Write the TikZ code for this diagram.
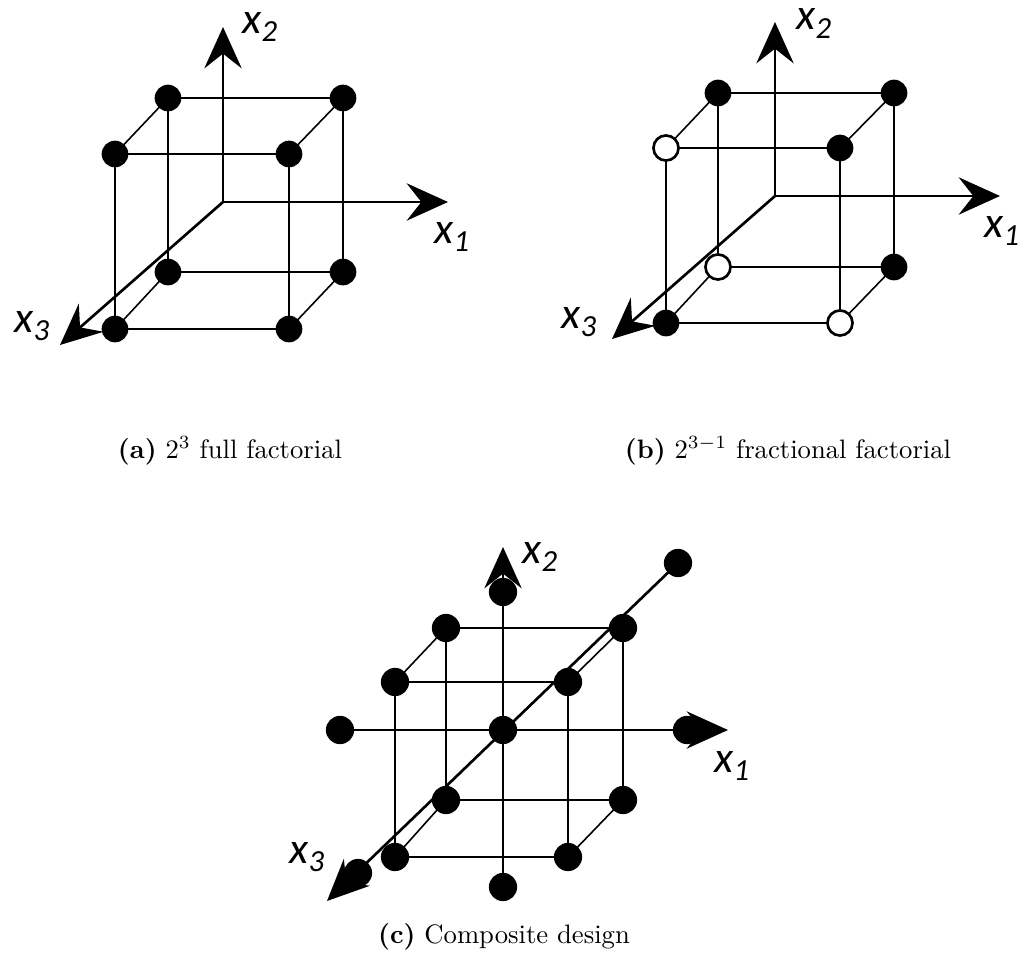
\documentclass[tikz,border=0pt]{standalone}
\usepackage{fontspec}
\newfontfamily\labfont{Carlito}
\usetikzlibrary{arrows.meta}
\tikzset{
  thinedge/.style={line width=0.6pt},
  thickedge/.style={line width=0.95pt},
  axis/.style={line width=1pt,-{Stealth[length=15.5pt,width=14pt,inset=5.5pt]}},
  dot/.style={circle,fill=black,inner sep=0pt,minimum size=10pt},
  bigdot/.style={circle,fill=black,inner sep=0pt,minimum size=10.6pt},
  opendot/.style={circle,draw=black,fill=white,line width=1pt,inner sep=0pt,minimum size=9.4pt},
  axlabel/.style={anchor=base west,inner sep=0pt,font=\labfont\itshape\fontsize{16.5}{16.5}\selectfont},
  caption/.style={anchor=base,inner sep=0pt,font=\fontsize{10}{12}\selectfont}
}
\newcommand{\axl}[1]{x\raisebox{-3pt}{\fontsize{11.5}{11.5}\selectfont #1}}
\begin{document}
\begin{tikzpicture}[x=0.375pt,y=-0.375pt]
\path[use as bounding box] (0,0) rectangle (1022,953);

% ---------------- (a) ----------------
\coordinate (a-btl) at (168,98);
\coordinate (a-btr) at (343,98);
\coordinate (a-bbl) at (168,272);
\coordinate (a-bbr) at (343,272);
\coordinate (a-ftl) at (115,154);
\coordinate (a-ftr) at (289,154);
\coordinate (a-fbl) at (115,329);
\coordinate (a-fbr) at (289,329);
\coordinate (a-o) at (223,202);
\coordinate (a-t1) at (448,202);
\coordinate (a-t2) at (223,27);
\coordinate (a-t3) at (60,345);

\draw[axis] (a-o) -- (a-t1);
\draw[axis] (a-o) -- (a-t2);
\draw[axis] (a-o) -- (a-t3);
\draw[thickedge] (a-btl) -- (a-btr);
\draw[thickedge] (a-btr) -- (a-bbr);
\draw[thinedge] (a-bbr) -- (a-bbl);
\draw[thinedge] (a-bbl) -- (a-btl);
\draw[thinedge] (a-ftl) -- (a-ftr);
\draw[thinedge] (a-ftr) -- (a-fbr);
\draw[thinedge] (a-fbr) -- (a-fbl);
\draw[thinedge] (a-fbl) -- (a-ftl);
\draw[thinedge] (a-btl) -- (a-ftl);
\draw[thinedge] (a-btr) -- (a-ftr);
\draw[thinedge] (a-bbl) -- (a-fbl);
\draw[thinedge] (a-bbr) -- (a-fbr);
\foreach \v in {btl,btr,bbl,bbr,ftl,ftr,fbl,fbr}
  \node[dot] (a-d\v) at (a-\v) {};
\node[axlabel] (a-l1) at (434,243) {\axl{1}};
\node[axlabel] (a-l2) at (242,33) {\axl{2}};
\node[axlabel] (a-l3) at (14,332) {\axl{3}};
\node[caption] (a-cap) at (230,458) {\textbf{(a)} $2^3$ full factorial};

% ---------------- (b) ----------------
\coordinate (b-btl) at (718,93);
\coordinate (b-btr) at (894,93);
\coordinate (b-bbl) at (718,267);
\coordinate (b-bbr) at (894,267);
\coordinate (b-ftl) at (666,148);
\coordinate (b-ftr) at (840,148);
\coordinate (b-fbl) at (666,323);
\coordinate (b-fbr) at (840,323);
\coordinate (b-o) at (775,196);
\coordinate (b-t1) at (1000,196);
\coordinate (b-t2) at (775,22);
\coordinate (b-t3) at (612,339);

\draw[axis] (b-o) -- (b-t1);
\draw[axis] (b-o) -- (b-t2);
\draw[axis] (b-o) -- (b-t3);
\draw[thickedge] (b-btl) -- (b-btr);
\draw[thickedge] (b-btr) -- (b-bbr);
\draw[thinedge] (b-bbr) -- (b-bbl);
\draw[thinedge] (b-bbl) -- (b-btl);
\draw[thinedge] (b-ftl) -- (b-ftr);
\draw[thinedge] (b-ftr) -- (b-fbr);
\draw[thinedge] (b-fbr) -- (b-fbl);
\draw[thinedge] (b-fbl) -- (b-ftl);
\draw[thinedge] (b-btl) -- (b-ftl);
\draw[thinedge] (b-btr) -- (b-ftr);
\draw[thinedge] (b-bbl) -- (b-fbl);
\draw[thinedge] (b-bbr) -- (b-fbr);
\foreach \v in {btl,btr,bbr,ftr,fbl}
  \node[dot] (b-d\v) at (b-\v) {};
\foreach \v in {ftl,bbl,fbr}
  \node[opendot] (b-d\v) at (b-\v) {};
\node[axlabel] (b-l1) at (984,237) {\axl{1}};
\node[axlabel] (b-l2) at (796,30) {\axl{2}};
\node[axlabel] (b-l3) at (561,328) {\axl{3}};
\node[caption] (b-cap) at (788,458) {\textbf{(b)} $2^{3-1}$ fractional factorial};

% ---------------- (c) ----------------
\coordinate (c-btl) at (446,628);
\coordinate (c-btr) at (623,628);
\coordinate (c-bbl) at (446,800);
\coordinate (c-bbr) at (623,800);
\coordinate (c-ftl) at (395,682);
\coordinate (c-ftr) at (568,682);
\coordinate (c-fbl) at (395,857);
\coordinate (c-fbr) at (568,857);
\coordinate (c-o) at (503,730);
\coordinate (c-m1) at (340,730);
\coordinate (c-p1) at (687,730);
\coordinate (c-t1) at (728,730);
\coordinate (c-p2) at (503,592);
\coordinate (c-m2) at (503,887);
\coordinate (c-t2) at (503,547);
\coordinate (c-m3) at (678,563);
\coordinate (c-p3) at (358,873);
\coordinate (c-t3) at (327,901);

\draw[thickedge] (c-btl) -- (c-btr);
\draw[thickedge] (c-btr) -- (c-bbr);
\draw[thinedge] (c-bbr) -- (c-bbl);
\draw[thinedge] (c-bbl) -- (c-btl);
\draw[thinedge] (c-ftl) -- (c-ftr);
\draw[thinedge] (c-ftr) -- (c-fbr);
\draw[thinedge] (c-fbr) -- (c-fbl);
\draw[thinedge] (c-fbl) -- (c-ftl);
\draw[thinedge] (c-btl) -- (c-ftl);
\draw[thinedge] (c-btr) -- (c-ftr);
\draw[thinedge] (c-bbl) -- (c-fbl);
\draw[thinedge] (c-bbr) -- (c-fbr);
\draw[axis] (c-m1) -- (c-t1);
\draw[axis] (c-m2) -- (c-t2);
\draw[axis] (c-m3) -- (c-t3);
\foreach \v in {btl,btr,bbl,bbr,ftl,ftr,fbl,fbr,o,m1,p1,p2,m2,m3,p3}
  \node[bigdot] (c-d\v) at (c-\v) {};
\node[axlabel] (c-l1) at (714,772) {\axl{1}};
\node[axlabel] (c-l2) at (522,563) {\axl{2}};
\node[axlabel] (c-l3) at (289,863) {\axl{3}};
\node[caption] (c-cap) at (504,943) {\textbf{(c)} Composite design};
\end{tikzpicture}
\end{document}
